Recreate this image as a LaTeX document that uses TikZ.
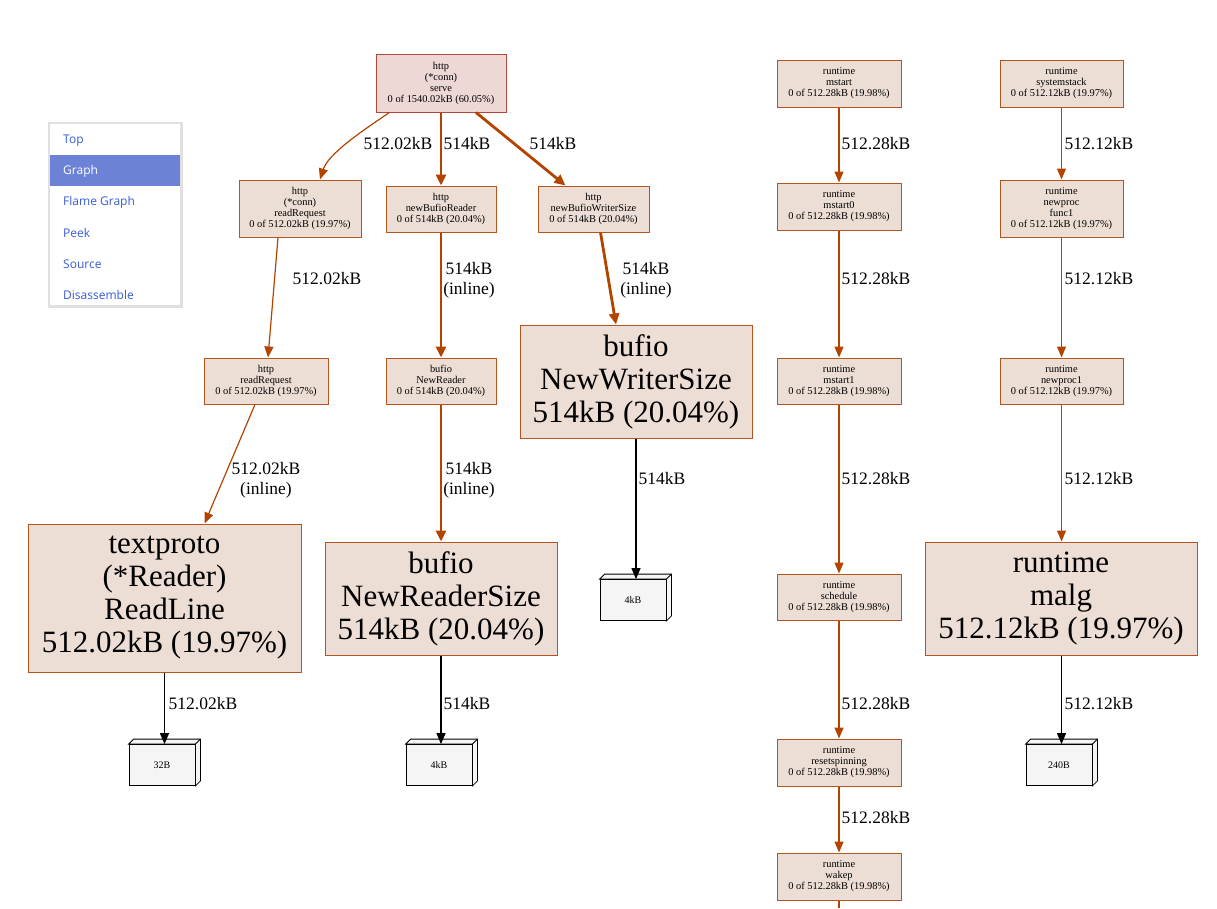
\documentclass[tikz,border=0pt]{standalone}
\usepackage{fontspec}
\setmainfont{Liberation Serif}
\newfontfamily\gv{Liberation Serif}
\newfontfamily\menufont{Open Sans}
\usetikzlibrary{calc,arrows.meta}
\definecolor{nfill}{HTML}{EDDED5}
\definecolor{nline}{HTML}{B5541E}
\definecolor{rfill}{HTML}{EDD8D6}
\definecolor{rline}{HTML}{B3473A}
\definecolor{ecol}{HTML}{B24400}
\definecolor{mblue}{HTML}{3A5BD8}
\definecolor{mhl}{HTML}{6B82D6}
\tikzset{
  sm/.style={draw=nline,fill=nfill,line width=1pt,align=center,font=\gv\fontsize{10.4}{11}\selectfont,inner sep=0pt,minimum height=46pt},
  big/.style={draw=nline,fill=nfill,line width=1pt,align=center,font=\gv\fontsize{31}{33}\selectfont,inner sep=0pt},
  leaf/.style={draw=black,fill=white!96!black,line width=0.8pt,font=\gv\fontsize{10}{11}\selectfont,minimum width=66pt,minimum height=41pt,inner sep=0pt},
  e1/.style={draw=ecol,line width=1.2pt,-{Triangle[length=11pt,width=9pt]}},
  e2/.style={draw=ecol,line width=2.8pt,-{Triangle[length=11pt,width=10pt]}},
  eb/.style={draw=black,line width=1.2pt,-{Triangle[length=11pt,width=9pt]}},
  lab/.style={font=\gv\fontsize{17.5}{20}\selectfont,align=center,inner sep=0pt},
  mi/.style={anchor=west,font=\menufont\fontsize{12}{13}\selectfont,text=mblue,inner sep=0pt}
}
\newcommand{\cubeit}[1]{\draw[line width=0.8pt,fill=white!96!black] (#1.north west) -- ++(5,-5) -- ($(#1.north east)+(5,-5)$) -- ($(#1.south east)+(5,-5)$) -- (#1.south east) -- (#1.north east) -- cycle; \draw[line width=0.8pt] (#1.north east) -- ++(5,-5);}
\begin{document}
\begin{tikzpicture}[x=1pt,y=-1pt]
\useasboundingbox (0,0) rectangle (1217,908);
% menu
\fill[black!12] (48,122) rectangle (183,308);
\node[draw=none,fill=white,minimum width=130pt,minimum height=181pt,inner sep=0pt] (menu) at (115,214.5) {};
\fill[mhl] (50,155) rectangle (180,186);
\node[mi] (m1) at (63,141) {Top};
\node[mi,text=white] (m2) at (63,171) {Graph};
\node[mi] (m3) at (63,202) {Flame Graph};
\node[mi] (m4) at (63,233) {Peek};
\node[mi] (m5) at (63,264) {Source};
\node[mi] (m6) at (63,295) {Disassemble};
% nodes
\node[sm,draw=rline,fill=rfill,minimum width=130pt,minimum height=58pt] (serve) at (441,83) {http\\(*conn)\\serve\\0 of 1540.02kB (60.05\%)};
\node[sm,minimum width=122pt,minimum height=57pt] (rrc) at (300,208.5) {http\\(*conn)\\readRequest\\0 of 512.02kB (19.97\%)};
\node[sm,minimum width=110pt] (nbr) at (441,209) {http\\newBufioReader\\0 of 514kB (20.04\%)};
\node[sm,minimum width=111pt] (nbw) at (593.5,209) {http\\newBufioWriterSize\\0 of 514kB (20.04\%)};
\node[sm,minimum width=124pt] (rr) at (266,381) {http\\readRequest\\0 of 512.02kB (19.97\%)};
\node[sm,minimum width=110pt] (nr) at (441,381) {bufio\\NewReader\\0 of 514kB (20.04\%)};
\node[big,minimum width=232pt,minimum height=113pt] (nws) at (636,381.5) {bufio\\NewWriterSize\\514kB (20.04\%)};
\node[big,minimum width=273pt,minimum height=148pt] (tp) at (164.5,598) {textproto\\(*Reader)\\ReadLine\\512.02kB (19.97\%)};
\node[big,minimum width=232pt,minimum height=113pt] (nrs) at (441,598.5) {bufio\\NewReaderSize\\514kB (20.04\%)};
\node[leaf] (l1) at (633,600) {4kB};
\node[leaf] (l2) at (162,765) {32B};
\node[leaf] (l3) at (439,765) {4kB};
\node[leaf] (l4) at (1059,765) {240B};
\cubeit{l1}\node[leaf] at (l1) {4kB};
\cubeit{l2}\node[leaf] at (l2) {32B};
\cubeit{l3}\node[leaf] at (l3) {4kB};
\cubeit{l4}\node[leaf] at (l4) {240B};
\node[sm,minimum width=124pt,minimum height=47pt] (ms) at (839,83.5) {runtime\\mstart\\0 of 512.28kB (19.98\%)};
\node[sm,minimum width=124pt,minimum height=47pt] (ms0) at (839,206.5) {runtime\\mstart0\\0 of 512.28kB (19.98\%)};
\node[sm,minimum width=124pt] (ms1) at (839,381) {runtime\\mstart1\\0 of 512.28kB (19.98\%)};
\node[sm,minimum width=124pt] (sch) at (839,597) {runtime\\schedule\\0 of 512.28kB (19.98\%)};
\node[sm,minimum width=124pt,minimum height=47pt] (rs) at (839,762.5) {runtime\\resetspinning\\0 of 512.28kB (19.98\%)};
\node[sm,minimum width=124pt,minimum height=47pt] (wk) at (839,876.5) {runtime\\wakep\\0 of 512.28kB (19.98\%)};
\coordinate (wkend) at (839,908);
\node[sm,minimum width=123pt,minimum height=47pt] (ss) at (1061.5,83.5) {runtime\\systemstack\\0 of 512.12kB (19.97\%)};
\node[sm,minimum width=123pt,minimum height=57pt] (npf) at (1061.5,208.5) {runtime\\newproc\\func1\\0 of 512.12kB (19.97\%)};
\node[sm,minimum width=123pt] (np1) at (1061.5,381) {runtime\\newproc1\\0 of 512.12kB (19.97\%)};
\node[big,minimum width=272pt,minimum height=113pt] (malg) at (1061,598.5) {runtime\\malg\\512.12kB (19.97\%)};
% edges
\draw[e1] ([xshift=14pt]serve.south west) .. controls +(-30,20) and +(8,-25) .. ([xshift=20pt]rrc.north);
\node[lab] (t1) at (398,144) {512.02kB};
\draw[e2] (serve.south) -- (nbr.north);
\node[lab] (t2) at (467,144) {514kB};
\draw[e2] ([xshift=35pt]serve.south) -- ([xshift=-28pt]nbw.north);
\node[lab] (t3) at (553,144) {514kB};
\draw[e1] ([xshift=-22pt]rrc.south) -- ([xshift=2pt]rr.north);
\node[lab] (t4) at (327,279) {512.02kB};
\draw[e2] (nbr.south) -- (nr.north);
\node[lab] (t5) at (469,280) {514kB\\(inline)};
\draw[e2] ([xshift=7pt]nbw.south) -- ([xshift=-20pt]nws.north);
\node[lab] (t6) at (646,280) {514kB\\(inline)};
\draw[e1] ([xshift=-11pt]rr.south) -- ([xshift=40pt]tp.north);
\node[lab] (t7) at (266,480) {512.02kB\\(inline)};
\draw[e2] (nr.south) -- (nrs.north);
\node[lab] (t8) at (469,480) {514kB\\(inline)};
\draw[eb] (nws.south) -- (l1.north -| nws.south);
\node[lab] (t9) at (662,479) {514kB};
\draw[eb] (tp.south) -- (l2.north -| tp.south);
\node[lab] (t10) at (203,704) {512.02kB};
\draw[eb] (nrs.south) -- (l3.north -| nrs.south);
\node[lab] (t11) at (467,704) {514kB};
\draw[e1] (ms) -- (ms0);
\node[lab] (t12) at (876,144) {512.28kB};
\draw[e1] (ms0) -- (ms1);
\node[lab] (t13) at (876,279) {512.28kB};
\draw[e1] (ms1) -- (sch);
\node[lab] (t14) at (876,479) {512.28kB};
\draw[e1] (sch) -- (rs);
\node[lab] (t15) at (876,704) {512.28kB};
\draw[e1] (rs) -- (wk);
\node[lab] (t16) at (876,818) {512.28kB};
\draw[draw=ecol,line width=1.2pt] (wk.south) -- (wkend);
\draw[e1] (ss) -- (npf);
\node[lab] (t17) at (1099,144) {512.12kB};
\draw[e1] (npf) -- (np1);
\node[lab] (t18) at (1099,279) {512.12kB};
\draw[e1] (np1.south) -- (malg.north -| np1.south);
\node[lab] (t19) at (1099,479) {512.12kB};
\draw[eb] (malg.south -| np1.south) -- (l4.north -| np1.south);
\node[lab] (t20) at (1099,704) {512.12kB};
\end{tikzpicture}
\end{document}
